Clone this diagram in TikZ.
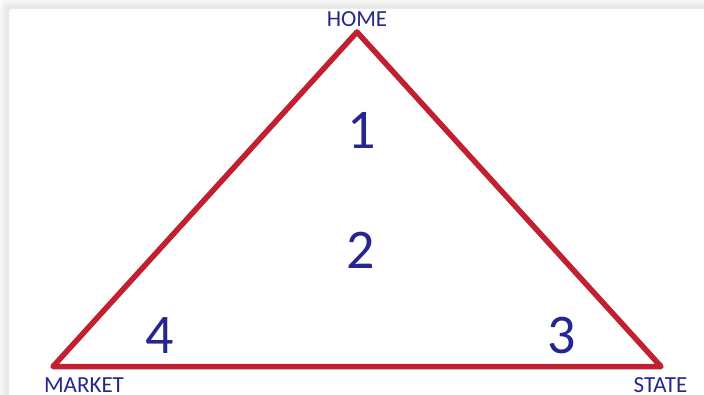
\documentclass[tikz,border=0pt]{standalone}
\usepackage{fontspec}
\setmainfont{Carlito}
\definecolor{tri}{RGB}{192,32,48}
\definecolor{lbl}{RGB}{38,38,145}
\begin{document}
\begin{tikzpicture}[x=1pt,y=-1pt,
  vlabel/.style={text=lbl,font=\fontsize{23}{23}\selectfont,inner sep=0pt,anchor=base,text depth=0pt},
  num/.style={text=lbl,font=\fontsize{56}{56}\selectfont,inner sep=0pt,anchor=base},
  edge/.style={draw=tri,line width=5.5pt,line join=round}]
\useasboundingbox (0,0) rectangle (704,395);
% panel shadow
\fill[white] (0,0) rectangle (704,395);
\foreach \i/\g in {0/3,2/5,4/7,6/9}{
  \fill[black!\g, rounded corners=4pt] (\i,\i) rectangle (720,420);
}
\fill[white, rounded corners=3pt] (9,9) rectangle (720,420);
% vertices
\coordinate (H) at (357,32);
\coordinate (M) at (53,366.5);
\coordinate (S) at (661,366.5);
\draw[edge] (H) -- (M) -- (S) -- cycle;
% labels
\node[vlabel] (home) at (357,26.7) {HOME};
\node[vlabel] (market) at (84,392.5) {MARKET};
\node[vlabel] (state) at (660.5,392.5) {STATE};
\node[num] (n1) at (362,148.3) {1};
\node[num] (n2) at (361,268.3) {2};
\node[num] (n3) at (562,353) {3};
\node[num] (n4) at (159.5,353) {4};
\end{tikzpicture}
\end{document}
